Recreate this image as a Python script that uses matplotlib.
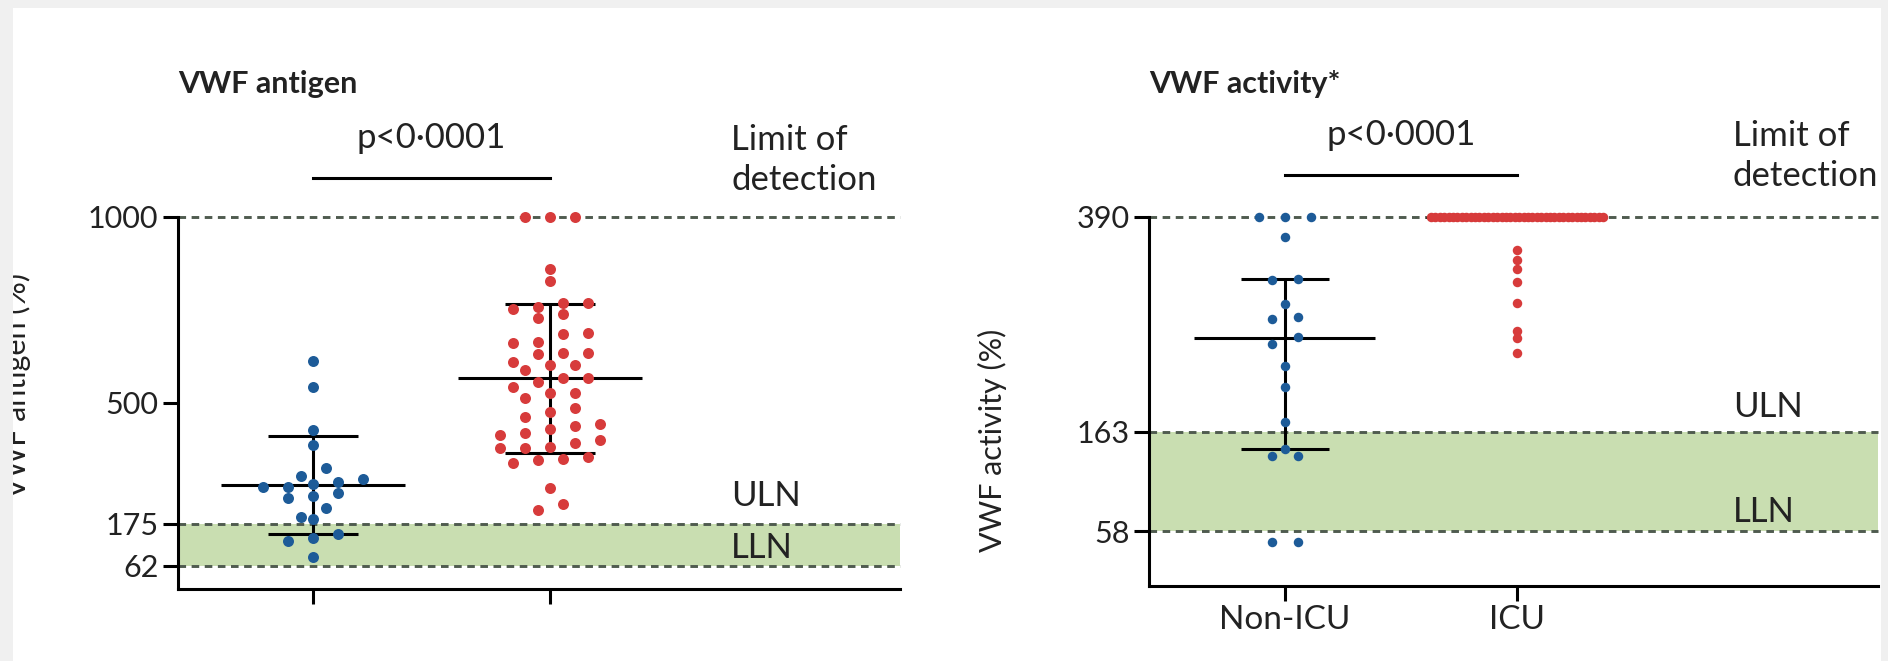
import numpy as np
import matplotlib
matplotlib.use("Agg")
import matplotlib.pyplot as plt
from matplotlib import font_manager
from matplotlib.patches import Rectangle
from matplotlib.transforms import blended_transform_factory

# ----
# Data
# ----
groups = ["Non-ICU", "ICU"]

antigen_non_icu = [613, 544, 427, 387, 326, 305, 296, 288, 282, 275, 275,
                   258, 251, 245, 218, 194, 188, 148, 137, 130, 87]
antigen_icu = [1000, 1000, 1000, 860, 829, 769, 769, 758, 753, 739, 729,
               688, 685, 665, 661, 635, 635, 632, 610, 602, 602, 589, 567,
               567, 557, 544, 528, 527, 513, 486, 477, 463, 443, 439, 430,
               420, 414, 400, 392, 383, 379, 379, 356, 349, 347, 339, 271,
               228, 212]
antigen_median = [279, 567]
antigen_q1 = [147, 366]
antigen_q3 = [411, 765]
antigen_ticks = [62, 175, 500, 1000]
antigen_lln, antigen_uln, antigen_lod = 62, 175, 1000

activity_non_icu = [390, 390, 390, 369, 325, 323, 298, 284, 282, 263, 256,
                    232, 210, 173, 145, 137, 137, 47, 46]
activity_icu_n_at_lod = 40
activity_icu_below_lod = [355, 345, 335, 321, 299, 270, 262, 246]
activity_median = [262, 390]
activity_q1 = [145, 390]
activity_q3 = [325, 390]
activity_ticks = [58, 163, 390]
activity_lln, activity_uln, activity_lod = 58, 163, 390

activity_icu = list(np.full(activity_icu_n_at_lod, activity_lod)) + activity_icu_below_lod

# ----
# Style
# ----
names = {f.name for f in font_manager.fontManager.ttflist}
family = "DejaVu Sans"
for cand in ["Lato", "Open Sans", "Noto Sans"]:
    if cand in names:
        family = cand
        break
plt.rcParams["font.family"] = [family, "DejaVu Sans"]

BLUE = "#1d5b98"
RED = "#d73b3b"
GREEN = "#c9deb1"
DASH = "#4f5b4f"
TEXT = "#222222"
BORDER = "#f0f0f0"
FS_TICK = 22      # y tick numbers, panel titles
FS_LABEL = 24     # group names
FS_NOTE = 25      # p value, limit of detection, ULN / LLN
FS_YLAB = 22
LW = 2.2

W, H = 1888, 661
fig = plt.figure(figsize=(W / 100, H / 100), dpi=100)
fig.patch.set_facecolor("white")


def row_offsets(values, bin_px, step_px, max_half_px, ppy, ppx):
    # GraphPad-like scatter: values close in height share a row, rows centred
    v = np.asarray(values, float)
    order = np.argsort(-v, kind="stable")
    offs = np.zeros(len(v))
    i = 0
    while i < len(order):
        j = i
        while j + 1 < len(order) and (v[order[i]] - v[order[j + 1]]) * ppy < bin_px:
            j += 1
        row = order[i:j + 1][::-1]
        n = len(row)
        step = step_px if n == 1 else min(step_px, 2 * max_half_px / (n - 1))
        offs[row] = (np.arange(n) - (n - 1) / 2) * step / ppx
        i = j + 1
    return offs


def panel(rect, xlim, ylim, series, med, q1, q3, lln, uln, lod, yticks,
          xticklabels, dot_px, bin_px, step_px, max_half_px, title,
          label_x, lod_y, uln_y, lln_y, pbar_y, ptext_y, title_y):
    ax = fig.add_axes(rect)
    ax.set_xlim(*xlim)
    ax.set_ylim(*ylim)
    ppx = ax.bbox.width / (xlim[1] - xlim[0])
    ppy = ax.bbox.height / (ylim[1] - ylim[0])

    ax.axhspan(lln, uln, color=GREEN, lw=0, zorder=0)
    for yv in (lln, uln, lod):
        ax.axhline(yv, color=DASH, lw=2.1, ls=(0, (2.6, 1.9)), zorder=1,
                   clip_on=False)

    for i, (vals, col) in enumerate(zip(series, [BLUE, RED])):
        ax.hlines(med[i], i - 0.39, i + 0.39, color="black", lw=LW, zorder=3)
        ax.vlines(i, q1[i], q3[i], color="black", lw=LW, zorder=3)
        ax.hlines([q1[i], q3[i]], i - 0.19, i + 0.19, color="black", lw=LW,
                  zorder=3)
        offs = row_offsets(vals, bin_px, step_px, max_half_px, ppy, ppx)
        ax.plot(i + offs, vals, "o", ms=dot_px / 1.389, color=col, mew=0,
                zorder=4, clip_on=False)

    for s in ("top", "right"):
        ax.spines[s].set_visible(False)
    for s in ("left", "bottom"):
        ax.spines[s].set_linewidth(LW)
    ax.set_yticks(yticks)
    ax.set_xticks([0, 1])
    ax.set_xticklabels(xticklabels)
    ax.tick_params(axis="both", length=11, width=LW, pad=3, colors="black",
                   labelcolor=TEXT)
    ax.tick_params(axis="y", labelsize=FS_TICK)
    ax.tick_params(axis="x", labelsize=FS_LABEL)

    tr = blended_transform_factory(ax.transData, ax.transAxes)
    ax.plot([0, 1], [pbar_y, pbar_y], color="black", lw=LW, transform=tr,
            clip_on=False)
    ax.text(0.5, ptext_y, "p<0·0001", transform=tr, ha="center", va="center",
            fontsize=FS_NOTE, color=TEXT)
    ax.text(0, title_y, title, transform=ax.transAxes, ha="left", va="center",
            fontsize=FS_TICK, fontweight="bold", color=TEXT)
    ax.text(label_x, lod_y, "Limit of\ndetection", transform=tr, ha="left",
            va="center", fontsize=FS_NOTE, color=TEXT, linespacing=1.3)
    ax.text(label_x, uln_y, "ULN", ha="left", va="center", fontsize=FS_NOTE,
            color=TEXT)
    ax.text(label_x, lln_y, "LLN", ha="left", va="center", fontsize=FS_NOTE,
            color=TEXT)
    return ax


# ----
# Left: VWF antigen
# ----
panel([178 / W, 1 - 589 / H, (900 - 178) / W, (589 - 217) / H],
      (-0.570, 2.477), (0, 1000),
      [antigen_non_icu, antigen_icu], antigen_median, antigen_q1, antigen_q3,
      antigen_lln, antigen_uln, antigen_lod, antigen_ticks, ["", ""],
      dot_px=11, bin_px=11, step_px=25, max_half_px=52,
      title="VWF antigen", label_x=1.764, lod_y=1.153, uln_y=250, lln_y=110,
      pbar_y=1.105, ptext_y=1.212, title_y=1.358)

# ----
# Right: VWF activity
# ----
panel([1149 / W, 1 - 586 / H, (1878 - 1149) / W, (586 - 217) / H],
      (-0.586, 2.556), (0, 390),
      [activity_non_icu, activity_icu], activity_median, activity_q1,
      activity_q3, activity_lln, activity_uln, activity_lod, activity_ticks,
      groups, dot_px=9.5, bin_px=7, step_px=26, max_half_px=86,
      title="VWF activity*", label_x=1.93, lod_y=1.165, uln_y=189, lln_y=78,
      pbar_y=1.114, ptext_y=1.222, title_y=1.36)

# left label is partly hidden under the page border, as in the screenshot
fig.text(31 / W, 1 - 385 / H, "VWF antigen (%)", rotation=90, ha="right",
         va="center", fontsize=FS_YLAB, color=TEXT)
fig.text(1007 / W, 1 - 440 / H, "VWF activity (%)", rotation=90, ha="right",
         va="center", fontsize=FS_YLAB, color=TEXT)

# light grey page border
for x0, y0, w, h in [(0, 0, 13, H), (0, H - 8, W, 8), (W - 7, 0, 7, H)]:
    fig.add_artist(Rectangle((x0 / W, y0 / H), w / W, h / H,
                             transform=fig.transFigure, color=BORDER, lw=0,
                             zorder=20))

fig.savefig("out.png", dpi=100)
